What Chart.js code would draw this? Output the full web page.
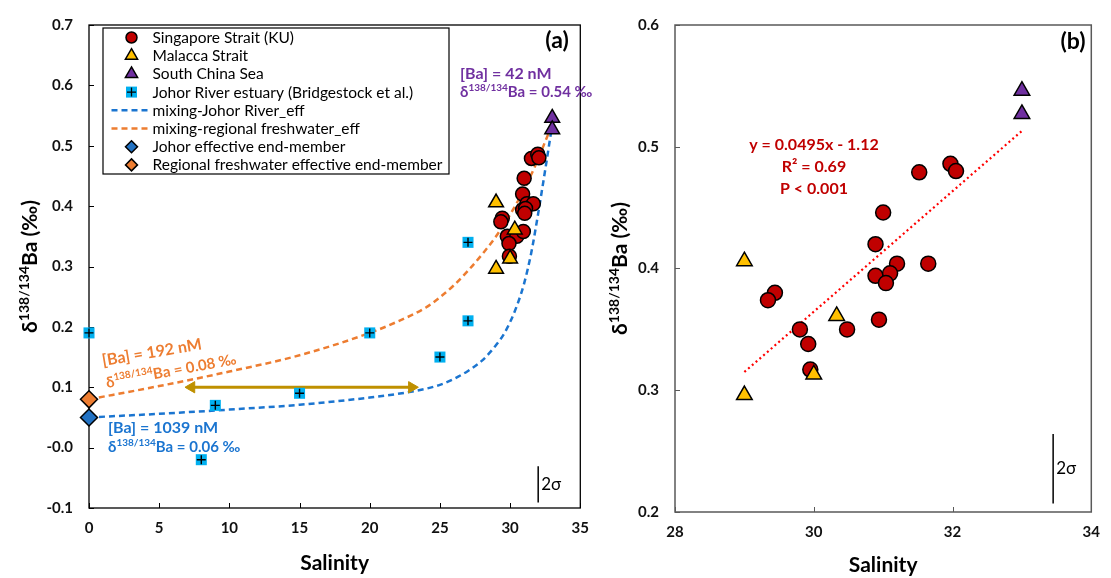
<!DOCTYPE html>
<html>
<head>
<meta charset="utf-8">
<script src="https://cdn.jsdelivr.net/npm/chart.js@4.4.0/dist/chart.umd.min.js"></script>
<style>
html, body { margin: 0; padding: 0; background: #fff; }
#wrapA { position: absolute; left: 0; top: 0; width: 600px; height: 578px; }
#wrapB { position: absolute; left: 590px; top: 0; width: 521px; height: 578px; }
</style>
</head>
<body>
<div id="wrapA"><canvas id="chA" width="600" height="578"></canvas></div>
<div id="wrapB"><canvas id="chB" width="521" height="578"></canvas></div>
<script>
// Singapore Strait (KU)
const ssSal = [31.52, 31.97, 32.05, 31.00, 30.89, 31.20, 31.65, 30.89, 31.10, 31.04, 29.44, 29.34, 29.80, 30.48, 30.94, 29.92, 29.95];
const ssBa  = [0.479, 0.486, 0.480, 0.446, 0.420, 0.404, 0.404, 0.394, 0.396, 0.388, 0.380, 0.374, 0.350, 0.350, 0.358, 0.338, 0.317];
// Malacca Strait
const msSal = [29.0, 29.0, 30.33, 30.0];
const msBa  = [0.406, 0.296, 0.361, 0.313];
// South China Sea
const scsSal = [33.0, 33.0];
const scsBa  = [0.546, 0.527];
// Johor River estuary (Bridgestock et al.)
const jreSal = [0, 8, 9, 15, 20, 25, 27, 27];
const jreBa  = [0.19, -0.02, 0.07, 0.09, 0.19, 0.15, 0.21, 0.34];
// mixing curves
const mixJohorSal = [0, 5, 10, 15, 20, 23.5, 25, 26, 27, 28, 28.5, 29, 29.5, 30, 30.5, 31, 31.5, 32, 32.5, 33];
const mixJohorBa  = [0.05, 0.056, 0.063, 0.071, 0.083, 0.095, 0.104, 0.114, 0.127, 0.144, 0.156, 0.17, 0.186, 0.208, 0.236, 0.272, 0.322, 0.388, 0.46, 0.535];
const mixRegSal = [0, 5, 10, 15, 20, 22, 24, 25, 26, 27, 28, 29, 30, 31, 32, 32.5, 33];
const mixRegBa  = [0.08, 0.102, 0.126, 0.153, 0.19, 0.209, 0.232, 0.249, 0.269, 0.293, 0.32, 0.35, 0.386, 0.428, 0.478, 0.507, 0.535];
// end-members
const johorEndSal = [0], johorEndBa = [0.05];
const regEndSal = [0], regEndBa = [0.08];
// salinity range arrow
const arrowSal = [7.3, 23.0], arrowBa = [0.10, 0.10];
// 2 sigma bars
const sigASal = [32.0, 32.0], sigABa = [-0.031, -0.091];
const sigBSal = [33.45, 33.45], sigBBa = [0.264, 0.207];
// regression line (panel b)
const fitSal = [29, 33], fitBa = [0.315, 0.513];

const FONT = 'Lato, "Open Sans", "DejaVu Sans", sans-serif';
const RED = '#c00000', YEL = '#ffc000', PUR = '#7030a0', CYAN = '#00b0f0';
const BLUE = '#1b75d0', ORANGE = '#ed7d31', GOLD = '#bf9000';

const pts = (xs, ys) => xs.map((x, i) => ({ x: x, y: ys[i] }));
const fnt = (size, bold) => (bold ? 'bold ' : '') + size + 'px ' + FONT;

function drawRich(ctx, runs, x, y, o) {
  const sup = Math.round(o.size * 0.66);
  let w = 0;
  const ws = runs.map(r => { ctx.font = fnt(r[1] ? sup : o.size, o.bold); const m = ctx.measureText(r[0]).width; w += m; return m; });
  ctx.save();
  ctx.translate(x, y);
  if (o.angle) ctx.rotate(o.angle * Math.PI / 180);
  ctx.fillStyle = o.color;
  ctx.textBaseline = 'alphabetic';
  ctx.textAlign = 'left';
  let cx = o.align === 'center' ? -w / 2 : 0;
  runs.forEach((r, i) => {
    ctx.font = fnt(r[1] ? sup : o.size, o.bold);
    ctx.fillText(r[0], cx, r[1] ? -o.size * 0.4 : 0);
    cx += ws[i];
  });
  ctx.restore();
}

function text(ctx, s, x, y, size, bold, color, align) {
  ctx.save();
  ctx.font = fnt(size, bold);
  ctx.fillStyle = color;
  ctx.textAlign = align || 'left';
  ctx.textBaseline = 'middle';
  ctx.fillText(s, x, y);
  ctx.restore();
}

function frameTicks(chart, color, lw) {
  const { ctx, chartArea: a, scales: { x, y } } = chart;
  ctx.save();
  ctx.strokeStyle = color;
  ctx.lineWidth = lw;
  ctx.strokeRect(a.left, a.top, a.right - a.left, a.bottom - a.top);
  ctx.lineWidth = 1;
  x.ticks.forEach(t => {
    const px = Math.round(x.getPixelForValue(t.value)) + 0.5;
    ctx.beginPath(); ctx.moveTo(px, a.bottom); ctx.lineTo(px, a.bottom - 5); ctx.stroke();
  });
  y.ticks.forEach(t => {
    const py = Math.round(y.getPixelForValue(t.value)) + 0.5;
    ctx.beginPath(); ctx.moveTo(a.left, py); ctx.lineTo(a.left + 5, py); ctx.stroke();
  });
  ctx.restore();
}

const yTitle = [['δ', 0], ['138/134', 1], ['Ba (‰)', 0]];

function marker(ctx, type, x, y, r, fill) {
  ctx.save();
  ctx.fillStyle = fill;
  ctx.strokeStyle = '#000';
  ctx.lineWidth = 1.5;
  ctx.beginPath();
  if (type === 'circle') ctx.arc(x, y, r, 0, Math.PI * 2);
  if (type === 'tri') { ctx.moveTo(x, y - r); ctx.lineTo(x + r * 0.87, y + r * 0.5); ctx.lineTo(x - r * 0.87, y + r * 0.5); ctx.closePath(); }
  if (type === 'dia') { ctx.moveTo(x, y - r); ctx.lineTo(x + r, y); ctx.lineTo(x, y + r); ctx.lineTo(x - r, y); ctx.closePath(); }
  ctx.fill(); ctx.stroke();
  if (type === 'sq') {
    ctx.fillRect(x - 5.5, y - 5.5, 11, 11);
    ctx.beginPath(); ctx.moveTo(x - 4.5, y); ctx.lineTo(x + 4.5, y); ctx.moveTo(x, y - 4.5); ctx.lineTo(x, y + 4.5);
    ctx.lineWidth = 1.3; ctx.stroke();
  }
  if (type === 'dash') {
    ctx.strokeStyle = fill; ctx.lineWidth = 2.5; ctx.setLineDash([6, 4]);
    ctx.beginPath(); ctx.moveTo(x - 20, y); ctx.lineTo(x + 17, y); ctx.stroke();
  }
  ctx.restore();
}

const legendRows = [
  ['circle', RED, 'Singapore Strait (KU)'],
  ['tri', YEL, 'Malacca Strait'],
  ['tri', PUR, 'South China Sea'],
  ['sq', CYAN, 'Johor River estuary (Bridgestock et al.)'],
  ['dash', BLUE, 'mixing-Johor River_eff'],
  ['dash', ORANGE, 'mixing-regional freshwater_eff'],
  ['dia', '#2272c3', 'Johor effective end-member'],
  ['dia', ORANGE, 'Regional freshwater effective end-member']
];

const decorA = {
  id: 'decorA',
  beforeDatasetsDraw(chart) { frameTicks(chart, '#000', 1.3); },
  afterDraw(chart) {
    const ctx = chart.ctx;
    const a = chart.chartArea;
    // axis titles
    text(ctx, 'Salinity', (a.left + a.right) / 2, 563, 21, true, '#000', 'center');
    ctx.save(); ctx.translate(30, (a.top + a.bottom) / 2); ctx.rotate(-Math.PI / 2);
    drawRich(ctx, yTitle, 0, 7, { size: 21, bold: true, color: '#000', align: 'center' });
    ctx.restore();
    // legend
    ctx.save(); ctx.strokeStyle = '#000'; ctx.lineWidth = 1.2;
    ctx.strokeRect(103, 28, 346, 146); ctx.restore();
    legendRows.forEach((r, i) => {
      const yy = 37.5 + i * 18.2;
      marker(ctx, r[0], 131.5, yy, r[0] === 'circle' ? 5.5 : (r[0] === 'dia' ? 6 : 7), r[1]);
      text(ctx, r[2], 152.5, yy + 0.5, 15.5, false, '#000', 'left');
    });
    // panel label
    text(ctx, '(a)', 557, 41, 23, true, '#000', 'center');
    // end-member labels
    text(ctx, '[Ba] = 42 nM', 460, 74, 16, true, PUR, 'left');
    drawRich(ctx, [['δ', 0], ['138/134', 1], ['Ba = 0.54 ‰', 0]], 460, 97, { size: 15, bold: true, color: PUR });
    drawRich(ctx, [['[Ba] = 192 nM', 0]], 103, 366, { size: 16, bold: true, color: ORANGE, angle: -9.5 });
    drawRich(ctx, [['δ', 0], ['138/134', 1], ['Ba = 0.08 ‰', 0]], 107, 388, { size: 15, bold: true, color: ORANGE, angle: -10.5 });
    text(ctx, '[Ba] = 1039 nM', 108, 428, 16, true, BLUE, 'left');
    drawRich(ctx, [['δ', 0], ['138/134', 1], ['Ba = 0.06 ‰', 0]], 108, 452, { size: 15, bold: true, color: BLUE });
    // 2 sigma label
    const sx = chart.scales.x.getPixelForValue(sigASal[0]);
    const sy = chart.scales.y.getPixelForValue((sigABa[0] + sigABa[1]) / 2);
    text(ctx, '2σ', sx + 3, sy, 17, false, '#000', 'left');
  }
};

const decorB = {
  id: 'decorB',
  beforeDatasetsDraw(chart) { frameTicks(chart, '#595959', 1.5); },
  afterDraw(chart) {
    const ctx = chart.ctx;
    const a = chart.chartArea;
    text(ctx, 'Salinity', (a.left + a.right) / 2, 565, 21, true, '#000', 'center');
    ctx.save(); ctx.translate(30, (a.top + a.bottom) / 2); ctx.rotate(-Math.PI / 2);
    drawRich(ctx, yTitle, 0, 7, { size: 21, bold: true, color: '#000', align: 'center' });
    ctx.restore();
    const ox = -590;
    text(ctx, '(b)', 1073 + ox, 42, 23, true, '#000', 'center');
    text(ctx, 'y = 0.0495x - 1.12', 814 + ox, 145, 16, true, RED, 'center');
    text(ctx, 'R² = 0.69', 814 + ox, 167, 16, true, RED, 'center');
    text(ctx, 'P < 0.001', 814 + ox, 189, 16, true, RED, 'center');
    const sx = chart.scales.x.getPixelForValue(sigBSal[0]);
    const sy = chart.scales.y.getPixelForValue((sigBBa[0] + sigBBa[1]) / 2);
    text(ctx, '2σ', sx + 3, sy, 17, false, '#000', 'left');
  }
};

function axes(xmin, xmax, xstep, ymin, ymax, ystep, yW, xH, xdec) {
  const tf = { family: FONT, size: 15, weight: 'bold' };
  return {
    x: {
      type: 'linear', min: xmin, max: xmax,
      ticks: { stepSize: xstep, padding: 11, font: tf, color: '#111', callback: v => v.toFixed(xdec) },
      grid: { display: false, drawTicks: false }, border: { display: false },
      afterFit(s) { s.height = xH; }
    },
    y: {
      type: 'linear', min: ymin, max: ymax,
      ticks: { stepSize: ystep, padding: 16, font: tf, color: '#111', callback: v => v.toFixed(1) },
      grid: { display: false, drawTicks: false }, border: { display: false },
      afterFit(s) { s.width = yW; }
    }
  };
}

const common = { responsive: false, animation: false, plugins: { legend: { display: false }, tooltip: { enabled: false } } };

const sym = (data, style, r, fill, order, extra) => Object.assign({
  type: 'scatter', data: data, pointStyle: style, pointRadius: r, pointBackgroundColor: fill,
  pointBorderColor: '#000', pointBorderWidth: 1.5, showLine: false, order: order, clip: false
}, extra || {});

const curve = (data, color, dash, width, order) => ({
  type: 'scatter', data: data, showLine: true, borderColor: color, borderWidth: width, borderDash: dash,
  pointRadius: 0, cubicInterpolationMode: 'monotone', fill: false, order: order
});

new Chart(document.getElementById('chA'), {
  type: 'scatter',
  data: {
    datasets: [
      sym(pts(regEndSal, regEndBa), 'rectRot', 8.5, ORANGE, 0),
      sym(pts(johorEndSal, johorEndBa), 'rectRot', 8.5, '#2272c3', 0),
      sym(pts(scsSal, scsBa), 'triangle', 8.5, PUR, 1),
      sym(pts(msSal, msBa), 'triangle', 8.5, YEL, 2),
      sym(pts(ssSal, ssBa), 'circle', 7, RED, 3),
      sym(pts(jreSal, jreBa), 'cross', 4.5, '#000', 4, { pointBorderWidth: 1.4 }),
      sym(pts(jreSal, jreBa), 'rect', 7.8, CYAN, 5, { pointBorderWidth: 0 }),
      Object.assign(curve(pts(arrowSal, arrowBa), GOLD, [], 3, 8), {
        pointStyle: 'triangle', pointRadius: 6.5, pointRotation: [-90, 90],
        pointBackgroundColor: GOLD, pointBorderColor: GOLD, pointBorderWidth: 1
      }),
      curve(pts(mixRegSal, mixRegBa), ORANGE, [6, 4], 2.5, 9),
      curve(pts(mixJohorSal, mixJohorBa), BLUE, [6, 4], 2.5, 10),
      curve(pts(sigASal, sigABa), '#000', [], 1.5, 11)
    ]
  },
  options: Object.assign({}, common, {
    layout: { padding: { top: 17, right: 16, left: 0, bottom: 0 } },
    scales: axes(0, 35, 5, -0.1, 0.7, 0.1, 89, 70, 0)
  }),
  plugins: [decorA]
});

new Chart(document.getElementById('chB'), {
  type: 'scatter',
  data: {
    datasets: [
      sym(pts(scsSal, scsBa), 'triangle', 9, PUR, 1),
      sym(pts(msSal, msBa), 'triangle', 9, YEL, 2),
      sym(pts(ssSal, ssBa), 'circle', 7.5, RED, 3),
      curve(pts(fitSal, fitBa), '#ff0000', [2, 3], 2.2, 9),
      curve(pts(sigBSal, sigBBa), '#000', [], 1.5, 10)
    ]
  },
  options: Object.assign({}, common, {
    layout: { padding: { top: 19, right: 15, left: 0, bottom: 0 } },
    scales: axes(28, 34, 2, 0.2, 0.6, 0.1, 85, 66, 0)
  }),
  plugins: [decorB]
});
</script>
</body>
</html>
